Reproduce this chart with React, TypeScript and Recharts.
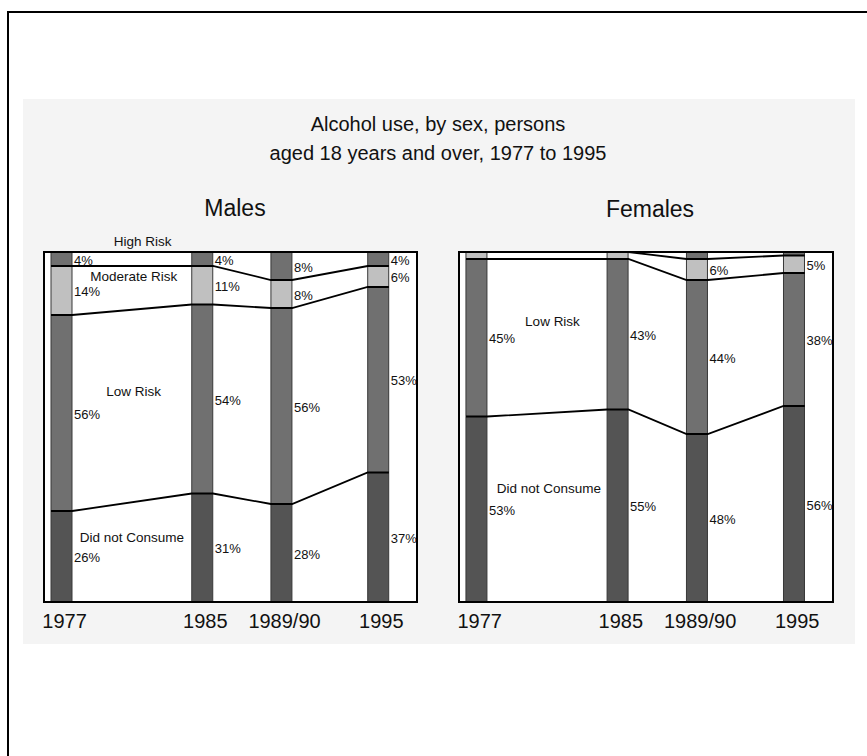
import React from "react";
import {Bar, ComposedChart, LabelList, Line, ReferenceDot, XAxis, YAxis} from "recharts";

const years = [1977, 1985, 1989.5, 1995];
const yearLabels = ["1977", "1985", "1989/90", "1995"];

// per cent of males
const maleNone = [26, 31, 28, 37];
const maleLow = [56, 54, 56, 53];
const maleModerate = [14, 11, 8, 6];
const maleHigh = [4, 4, 8, 4];

// per cent of females
const femaleNone = [53, 55, 48, 56];
const femaleLow = [45, 43, 44, 38];
const femaleModerate = [2, 2, 6, 5];
const femaleHigh = [0, 0, 2, 1];

const FONT = '"Liberation Sans", Arial, Helvetica, sans-serif';
const X_DOMAIN = [1976, 1997.2];
const HALF = 0.6; // half a bar, in years

function buildRows(none: number[], low: number[], mod: number[], high: number[]) {
  return years.map((year, i) => ({year, none: none[i], low: low[i], moderate: mod[i], high: high[i]}));
}

// running totals at both edges of each bar, so the joining lines run bar edge to bar edge
function buildEdges(none: number[], low: number[], mod: number[], high: number[]) {
  const out: any[] = [];
  years.forEach((year, i) => {
    const c1 = none[i];
    const c2 = c1 + low[i];
    const c3 = c2 + mod[i];
    const c4 = c3 + high[i];
    out.push({year: year - HALF, c1, c2, c3, c4});
    out.push({year: year + HALF, c1, c2, c3, c4});
  });
  return out;
}

const pctLabel = (props: any) => {
  const {x, y, width, height, value} = props;
  if (value == null || value < 3) return null;
  return (
    <text x={x + width + 2} y={y + height / 2 + 1} fontSize={13} fill="#111"
          fontFamily={FONT} dominantBaseline="central">
      {value}%
    </text>
  );
};

const yearTick = (props: any) => {
  const {x, y, payload} = props;
  const i = years.indexOf(payload.value);
  return (
    <text x={x + 3} y={y + 19} textAnchor="middle" dominantBaseline="central"
          fontSize={20} fill="#111" fontFamily={FONT}>
      {yearLabels[i]}
    </text>
  );
};

type Note = {text: string; x: number; y: number};

const maleNotes: Note[] = [
  {text: "High Risk", x: 1981.6, y: 103.1},
  {text: "Moderate Risk", x: 1981.1, y: 93.1},
  {text: "Low Risk", x: 1981.1, y: 60.3},
  {text: "Did not Consume", x: 1981.0, y: 18.6},
];

const femaleNotes: Note[] = [
  {text: "Low Risk", x: 1981.3, y: 80.3},
  {text: "Did not Consume", x: 1981.1, y: 32.6},
];

function Panel({left, right, rows, edges, notes}: {left: number; right: number; rows: any[]; edges: any[]; notes: Note[]}) {
  const W = 400;
  const H = 420;
  const m = {top: 27, right, bottom: 13, left: 14};
  const plotW = W - m.left - m.right;
  const plotH = 350;
  const lineProps = {
    data: edges, xAxisId: "edge", type: "linear" as const, stroke: "#000", strokeWidth: 1.8,
    dot: false, isAnimationActive: false
  };
  const barProps = {stackId: "s", stroke: "#383838", strokeWidth: 1, barSize: 21, isAnimationActive: false};
  return (
    <div style={{position: "absolute", left, top: 225, width: W, height: H}}>
      <div style={{position: "absolute", left: m.left, top: m.top, width: plotW, height: plotH, background: "#fff"}}/>
      <div style={{position: "absolute", left: 0, top: 0}}>
        <ComposedChart width={W} height={H} data={rows} margin={m}>
          <XAxis type="number" dataKey="year" domain={X_DOMAIN} ticks={years} tick={yearTick}
                 tickSize={0} tickMargin={0} tickLine={false} axisLine={false} height={30} allowDataOverflow/>
          <XAxis xAxisId="edge" type="number" dataKey="year" domain={X_DOMAIN} hide allowDataOverflow/>
          <YAxis hide domain={[0, 100]} allowDataOverflow/>
          <Bar {...barProps} dataKey="none" fill="#545454">
            <LabelList dataKey="none" content={pctLabel}/>
          </Bar>
          <Bar {...barProps} dataKey="low" fill="#707070">
            <LabelList dataKey="low" content={pctLabel}/>
          </Bar>
          <Bar {...barProps} dataKey="moderate" fill="#c0c0c0">
            <LabelList dataKey="moderate" content={pctLabel}/>
          </Bar>
          <Bar {...barProps} dataKey="high" fill="#707070">
            <LabelList dataKey="high" content={pctLabel}/>
          </Bar>
          <Line {...lineProps} dataKey="c1"/>
          <Line {...lineProps} dataKey="c2"/>
          <Line {...lineProps} dataKey="c3"/>
          <Line {...lineProps} dataKey="c4"/>
          {notes.map((n) => (
            <ReferenceDot key={n.text} x={n.x} y={n.y} r={0} ifOverflow="visible" stroke="none"
                          label={{value: n.text, position: "center", fontSize: 13.5, fill: "#111", fontFamily: FONT}}/>
          ))}
        </ComposedChart>
      </div>
      <div style={{
        position: "absolute", left: m.left - 1, top: m.top - 1, width: plotW + 2, height: plotH + 2,
        border: "2px solid #000", boxSizing: "border-box", pointerEvents: "none"
      }}/>
    </div>
  );
}

export default function App() {
  const maleRows = buildRows(maleNone, maleLow, maleModerate, maleHigh);
  const femaleRows = buildRows(femaleNone, femaleLow, femaleModerate, femaleHigh);
  const maleEdges = buildEdges(maleNone, maleLow, maleModerate, maleHigh);
  const femaleEdges = buildEdges(femaleNone, femaleLow, femaleModerate, femaleHigh);

  return (
    <div style={{position: "fixed", left: 0, top: 0, width: 867, height: 756, overflow: "hidden", background: "#fff", fontFamily: FONT, color: "#111"}}>
      <div style={{position: "absolute", left: 7, top: 11, width: 950, height: 850, border: "2px solid #000"}}/>
      <div style={{position: "absolute", left: 23, top: 99, width: 832, height: 545, background: "#f4f4f4"}}/>
      <div style={{position: "absolute", left: 238, top: 110, width: 400, textAlign: "center", fontSize: 20, lineHeight: "29px"}}>
        <div>Alcohol use, by sex, persons</div>
        <div>aged 18 years and over, 1977 to 1995</div>
      </div>
      <div style={{position: "absolute", left: 135, top: 194, width: 200, textAlign: "center", fontSize: 23, lineHeight: "28px"}}>Males</div>
      <div style={{position: "absolute", left: 550, top: 195, width: 200, textAlign: "center", fontSize: 23, lineHeight: "28px"}}>Females</div>
      <Panel left={30} right={13} rows={maleRows} edges={maleEdges} notes={maleNotes}/>
      <Panel left={445} right={12} rows={femaleRows} edges={femaleEdges} notes={femaleNotes}/>
    </div>
  );
}
